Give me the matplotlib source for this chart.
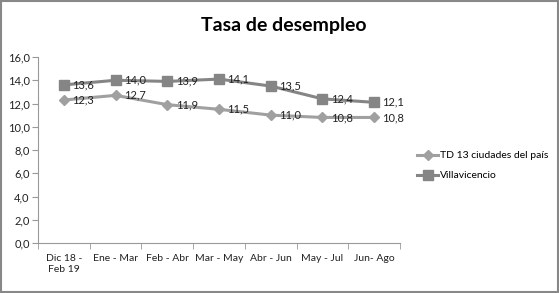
import matplotlib
matplotlib.use("Agg")
import matplotlib.pyplot as plt
from matplotlib.patches import Rectangle
import numpy as np

categories = ["Dic 18 -\nFeb 19", "Ene - Mar", "Feb - Abr", "Mar - May", "Abr - Jun", "May - Jul", "Jun- Ago"]
td13 = [12.3, 12.7, 11.9, 11.5, 11.0, 10.8, 10.8]
villavicencio = [13.6, 14.0, 13.9, 14.1, 13.5, 12.4, 12.1]
yticks = [0, 2, 4, 6, 8, 10, 12, 14, 16]

plt.rcParams['font.family'] = ['Lato', 'DejaVu Sans']

fig = plt.figure(figsize=(5.59, 2.93), dpi=100)
ax = fig.add_axes([38/559, 1-243/293, (400-38)/559, (243-57)/293])

x = np.arange(len(categories))
l1, = ax.plot(x, td13, color="#A0A0A0", lw=2.2, marker="D", ms=5, mfc="#A0A0A0", mec="#A0A0A0",
              label="TD 13 ciudades del país")
l2, = ax.plot(x, villavicencio, color="#858585", lw=2.2, marker="s", ms=7, mfc="#858585", mec="#858585",
              label="Villavicencio")

for xi, v in zip(x, td13):
    ax.annotate(f"{v:.1f}".replace(".", ","), (xi, v), xytext=(6, 0), textcoords="offset points",
                ha="left", va="center", fontsize=8, color="#222222")
for xi, v in zip(x, villavicencio):
    ax.annotate(f"{v:.1f}".replace(".", ","), (xi, v), xytext=(6, 0), textcoords="offset points",
                ha="left", va="center", fontsize=8, color="#222222")

ax.set_xlim(-0.5, len(categories) - 0.5)
ax.set_ylim(0, 16)
ax.set_yticks(yticks)
ax.set_yticklabels([f"{t:.1f}".replace(".", ",") for t in yticks], fontsize=8, color="#222222")
ax.set_xticks(x)
ax.set_xticklabels(categories, fontsize=7.5, color="#222222")
ax.tick_params(axis="x", which="major", length=0, pad=8)
ax.set_xticks(np.arange(-0.5, len(categories), 1.0), minor=True)
ax.tick_params(axis="x", which="minor", length=4, color="#999999", direction="out")
ax.tick_params(axis="y", length=4, color="#999999", direction="out", pad=2)
for s in ["top", "right"]:
    ax.spines[s].set_visible(False)
for s in ["left", "bottom"]:
    ax.spines[s].set_color("#999999")

fig.text(284/559, 1-26/293, "Tasa de desempleo", ha="center", va="center", fontsize=14, fontweight="bold")

fig.legend(handles=[l1, l2], loc="upper left", bbox_to_anchor=(413/559, 1-147/293), frameon=False,
           fontsize=7.5, handlelength=2.0, labelspacing=1.0, handletextpad=0.2, borderaxespad=0)

fig.patches.append(Rectangle((0.002, 0.003), 0.996, 0.994, transform=fig.transFigure, fill=False,
                             edgecolor="#888888", lw=1.5))

fig.savefig("out.png", dpi=100)
